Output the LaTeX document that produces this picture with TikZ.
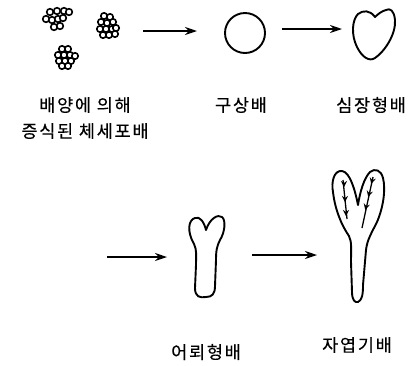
\documentclass[tikz,border=0pt]{standalone}
\usepackage{fontspec}
\newfontfamily\krfont{Noto Sans CJK KR}[LetterSpace=10,FakeBold=0.3]
\usetikzlibrary{arrows.meta}
\begin{document}
\begin{tikzpicture}[x=1pt,y=-1pt,
  outline/.style={line width=1.9pt, line join=round},
  cell/.style={line width=1.6pt, fill=white},
  flow/.style={line width=1.8pt, -{Stealth[length=12pt,width=8pt]}},
  label/.style={font=\krfont\fontsize{17.5}{26}\selectfont, inner sep=0pt, align=center},
  barb/.pic={\fill (-3.2,-3.2) -- (0,3) -- (3.2,-3.2) -- (0,-1) -- cycle;}]
\useasboundingbox (0,0) rectangle (419,365);

% somatic embryo clusters: overlapping small cells
\foreach \x/\y in {50/12,57/11,64/11,69/12, 46/19,52/20,58/19,63/18, 54/27,60/26}
  \draw[cell] (\x,\y) circle (3.3);
\foreach \x/\y in {104/16,110/17, 101/22,107/23,113/22, 100/29,106/29,112/29,116/28, 103/35,109/35,115/34}
  \draw[cell] (\x,\y) circle (3.2);
\foreach \x/\y in {62/49,68/49, 58/55,64/55,70/55,75/56, 59/61,65/61,71/61, 62/66,68/66}
  \draw[cell] (\x,\y) circle (3.2);

% globular embryo
\draw[outline] (245,33) circle (20);

% heart-shaped embryo
\draw[outline] (375,17) .. controls (370,10) and (363,10) .. (358,14)
  .. controls (352,20) and (351,35) .. (357,47)
  .. controls (362,57) and (369,62) .. (375,58)
  .. controls (384,52) and (396,35) .. (395,20)
  .. controls (394,10) and (390,8) .. (386,10)
  .. controls (382,11) and (378,14) .. (375,17) -- cycle;

% torpedo-shaped embryo
\draw[outline] (206,230) .. controls (204,222) and (200,216) .. (195,218)
  .. controls (188,220) and (187,232) .. (194,244)
  .. controls (197,250) and (196,256) .. (196,265)
  -- (195,288)
  .. controls (195,297) and (200,298) .. (206,297)
  .. controls (212,297) and (215,294) .. (215,286)
  -- (216,260)
  .. controls (216,250) and (217,246) .. (220,240)
  .. controls (225,232) and (226,220) .. (222,217)
  .. controls (218,214) and (210,218) .. (206,230) -- cycle;

% cotyledonary embryo
\draw[outline] (358,205) .. controls (355,190) and (350,172) .. (342,171)
  .. controls (334,170) and (331,182) .. (333,192)
  .. controls (335,210) and (342,226) .. (349,236)
  .. controls (352,242) and (351,250) .. (351,262)
  -- (352,292)
  .. controls (352,300) and (355,303) .. (358,302)
  .. controls (362,300) and (363,295) .. (363,285)
  -- (366,250)
  .. controls (367,240) and (372,232) .. (377,222)
  .. controls (383,208) and (386,190) .. (383,178)
  .. controls (381,170) and (375,168) .. (370,172)
  .. controls (364,178) and (360,192) .. (358,205) -- cycle;
\draw[line width=1.3pt] (343,180) -- (347,219);
\draw[line width=1.3pt] (373,177) -- (362,228);
\pic at (344,184) {barb};
\pic at (345,199) {barb};
\pic at (346,213) {barb};
\pic[rotate=-15] at (372,181) {barb};
\pic[rotate=-15] at (369,194) {barb};
\pic[rotate=-15] at (366,207) {barb};

% arrows between stages
\coordinate (a1s) at (143,31);  \coordinate (a1e) at (197,31);
\coordinate (a2s) at (282,29);  \coordinate (a2e) at (342,29);
\coordinate (a3s) at (107,257); \coordinate (a3e) at (167,257);
\coordinate (a4s) at (252,255); \coordinate (a4e) at (317,255);
\draw[flow] (a1s) -- (a1e);
\draw[flow] (a2s) -- (a2e);
\draw[flow] (a3s) -- (a3e);
\draw[flow] (a4s) -- (a4e);

% stage names
\node[label] (somatic) at (85,118) {배양에 의해\\증식된 체세포배};
\node[label] (globular) at (241,105) {구상배};
\node[label] (heart) at (371,105) {심장형배};
\node[label] (torpedo) at (206,352) {어뢰형배};
\node[label] (cotyl) at (357,345) {자엽기배};
\end{tikzpicture}
\end{document}
